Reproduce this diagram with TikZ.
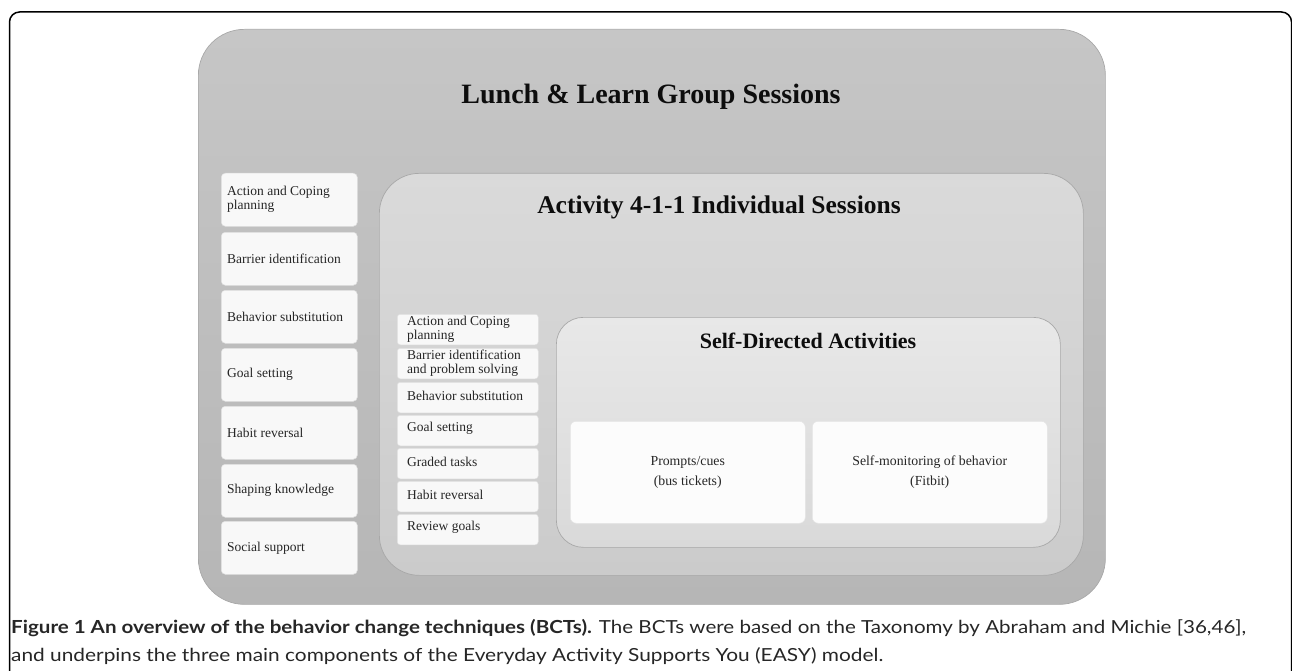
\documentclass[tikz,border=0pt]{standalone}
\usepackage{fontspec}
\setmainfont{Liberation Serif}
\newfontfamily\capfont{Lato}
\usepackage{graphicx}
\definecolor{outerTop}{HTML}{C6C6C6}
\definecolor{outerBot}{HTML}{B6B6B6}
\definecolor{actTop}{HTML}{DADADA}
\definecolor{actBot}{HTML}{CBCBCB}
\definecolor{selfTop}{HTML}{E8E8E8}
\definecolor{selfBot}{HTML}{D9D9D9}
\definecolor{boxFill}{HTML}{F8F8F8}
\definecolor{boxLine}{HTML}{A8A8A8}
\begin{document}
\begin{tikzpicture}[x=1pt,y=-1pt,
  bigbox/.style={draw=boxLine, line width=0.7pt, anchor=north west, inner sep=0pt},
  lbox/.style={draw=black!12, fill=boxFill, rounded corners=4pt, line width=0.5pt,
    minimum width=136pt, minimum height=53pt, anchor=north west, inner sep=0pt},
  mbox/.style={draw=black!12, fill=boxFill, rounded corners=3pt, line width=0.5pt,
    minimum width=141pt, minimum height=30.5pt, anchor=north west, inner sep=0pt},
  wbox/.style={draw=black!10, fill=white!60!boxFill, rounded corners=6pt, line width=0.5pt,
    minimum width=235pt, minimum height=102pt, anchor=north west, inner sep=0pt},
  ltext/.style={anchor=west, inner sep=0pt, align=left, font=\fontsize{13.5}{14}\selectfont, text=black!85},
  ctext/.style={inner sep=0pt, align=center, font=\fontsize{13.8}{20}\selectfont, text=black!85},
  ttl/.style={inner sep=0pt, font=\bfseries, text=black!95}
]
\useasboundingbox (0,0) rectangle (1292,671);
\clip (0,0) rectangle (1292,671);
% outer frame
\draw[line width=1.5pt, rounded corners=10pt] (9.5,690) -- (9.5,12) -- (1291.5,12) -- (1291.5,690);

% Lunch & Learn box
\node[bigbox, rounded corners=46pt, top color=outerTop, bottom color=outerBot,
  minimum width=907pt, minimum height=575pt] (lunch) at (198,29) {};
\node[ttl, font=\bfseries\fontsize{28}{30}\selectfont] (lunchT) at (651,97) {Lunch \& Learn Group Sessions};

% Left column
\node[lbox] (l1) at (221,173) {};
\node[lbox] (l2) at (221,232) {};
\node[lbox] (l3) at (221,290) {};
\node[lbox] (l4) at (221,348) {};
\node[lbox] (l5) at (221,406) {};
\node[lbox] (l6) at (221,464) {};
\node[lbox] (l7) at (221,521) {};
\node[ltext] (l1t) at ([xshift=6pt]l1.west) {Action and Coping\\planning};
\node[ltext] (l2t) at ([xshift=6pt]l2.west) {Barrier identification};
\node[ltext] (l3t) at ([xshift=6pt]l3.west) {Behavior substitution};
\node[ltext] (l4t) at ([xshift=6pt]l4.west) {Goal setting};
\node[ltext] (l5t) at ([xshift=6pt]l5.west) {Habit reversal};
\node[ltext] (l6t) at ([xshift=6pt]l6.west) {Shaping knowledge};
\node[ltext] (l7t) at ([xshift=6pt]l7.west) {Social support};

% Activity box
\node[bigbox, rounded corners=40pt, top color=actTop, bottom color=actBot,
  minimum width=704pt, minimum height=402pt] (act) at (379,173) {};
\node[ttl, font=\bfseries\fontsize{25.5}{28}\selectfont] (actT) at (719,207) {Activity 4-1-1 Individual Sessions};

% Middle column
\node[mbox] (m1) at (397,314) {};
\node[mbox] (m2) at (397,348) {};
\node[mbox] (m3) at (397,382) {};
\node[mbox] (m4) at (397,415) {};
\node[mbox] (m5) at (397,448) {};
\node[mbox] (m6) at (397,481) {};
\node[mbox] (m7) at (397,514) {};
\node[ltext] (m1t) at ([xshift=10pt,yshift=0.5pt]m1.west) {Action and Coping\\planning};
\node[ltext] (m2t) at ([xshift=10pt,yshift=0.5pt]m2.west) {Barrier identification\\and problem solving};
\node[ltext] (m3t) at ([xshift=10pt,yshift=2pt]m3.west) {Behavior substitution};
\node[ltext] (m4t) at ([xshift=10pt,yshift=2pt]m4.west) {Goal setting};
\node[ltext] (m5t) at ([xshift=10pt,yshift=2pt]m5.west) {Graded tasks};
\node[ltext] (m6t) at ([xshift=10pt,yshift=2pt]m6.west) {Habit reversal};
\node[ltext] (m7t) at ([xshift=10pt,yshift=2pt]m7.west) {Review goals};

% Self-directed box
\node[bigbox, rounded corners=27pt, top color=selfTop, bottom color=selfBot,
  minimum width=504pt, minimum height=230pt] (self) at (556,317) {};
\node[ttl, font=\bfseries\fontsize{22}{24}\selectfont] (selfT) at (808,341) {Self-Directed Activities};

\node[wbox] (w1) at (570,421) {};
\node[wbox] (w2) at (812,421) {};
\node[ctext] (w1t) at (w1.center) {Prompts/cues\\(bus tickets)};
\node[ctext] (w2t) at (w2.center) {Self-monitoring of behavior\\(Fitbit)};

% caption
\node[anchor=base west, inner sep=0pt, text=black!85] (cap1) at (11,633)
  {\capfont\fontsize{18}{20}\selectfont\resizebox{1235pt}{\height}{\textbf{Figure 1 An overview of the behavior change techniques (BCTs).} The BCTs were based on the Taxonomy by Abraham and Michie [36,46],}};
\node[anchor=base west, inner sep=0pt, text=black!85] (cap2) at (11,661)
  {\capfont\fontsize{18}{20}\selectfont\resizebox{872pt}{\height}{and underpins the three main components of the Everyday Activity Supports You (EASY) model.}};
\end{tikzpicture}
\end{document}
